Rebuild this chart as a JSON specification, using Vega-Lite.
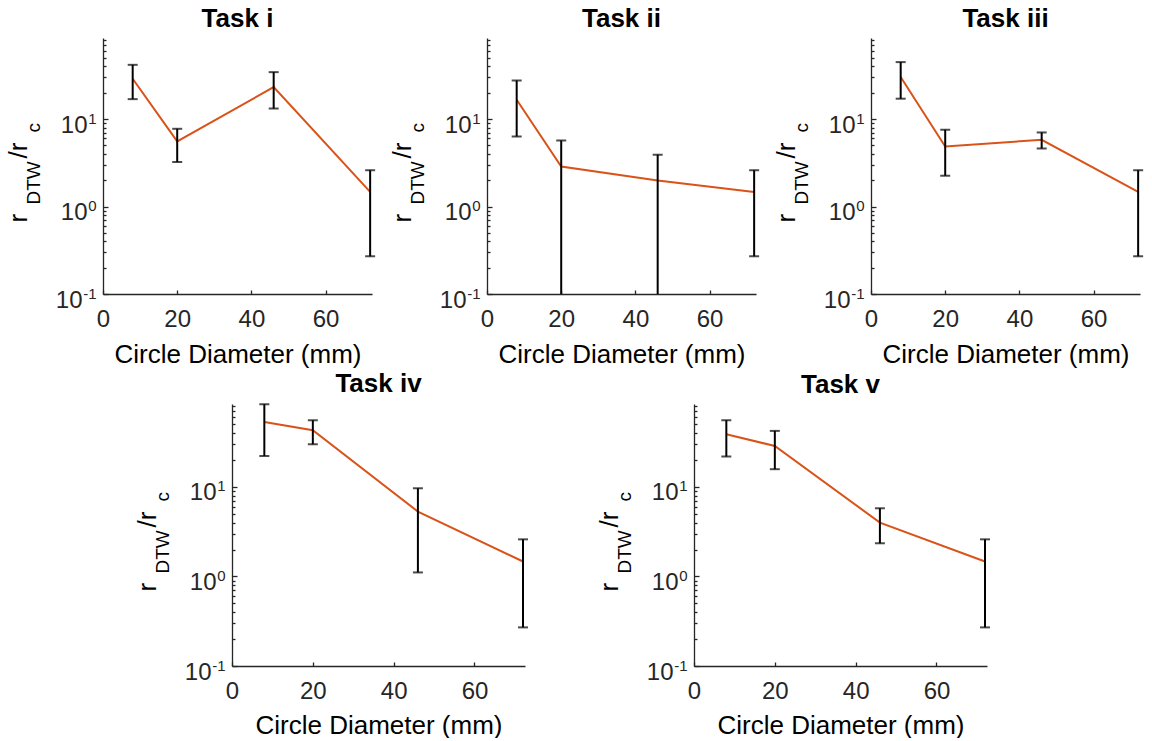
{
  "$schema": "https://vega.github.io/schema/vega-lite/v6.json",
  "background": "white",
  "padding": {"left": 5, "top": 6, "right": 0, "bottom": 0},
  "config": {
    "view": {"stroke": null},
    "font": "Liberation Sans",
    "axis": {
      "grid": false,
      "domainColor": "#262626",
      "domainWidth": 1.3,
      "tickColor": "#262626",
      "tickWidth": 1.3,
      "labelColor": "#262626",
      "labelFontSize": 24,
      "labelFont": "Liberation Sans",
      "titleFont": "Liberation Sans",
      "titleFontWeight": "normal",
      "titleColor": "#000000",
      "labelFlush": false,
      "labelOverlap": false,
      "labelBound": false
    },
    "title": {"font": "Liberation Sans", "fontSize": 26, "fontWeight": "bold", "color": "#000000", "baseline": "alphabetic", "anchor": "middle", "frame": "group"}
  },
  "datasets": {
    "err": [
      {"task": "i", "d": 8, "mean": 28.9, "lo": 16.9, "hi": 41.7},
      {"task": "i", "d": 20, "mean": 5.55, "lo": 3.23, "hi": 7.74},
      {"task": "i", "d": 46, "mean": 23.2, "lo": 13.2, "hi": 34.4},
      {"task": "i", "d": 72, "mean": 1.47, "lo": 0.27, "hi": 2.6},
      {"task": "ii", "d": 8, "mean": 16.6, "lo": 6.32, "hi": 27.6},
      {"task": "ii", "d": 20, "mean": 2.87, "lo": 0.1, "hi": 5.69},
      {"task": "ii", "d": 46, "mean": 1.99, "lo": 0.1, "hi": 3.91},
      {"task": "ii", "d": 72, "mean": 1.47, "lo": 0.27, "hi": 2.6},
      {"task": "iii", "d": 8, "mean": 30.2, "lo": 17.1, "hi": 44.8},
      {"task": "iii", "d": 20, "mean": 4.86, "lo": 2.25, "hi": 7.55},
      {"task": "iii", "d": 46, "mean": 5.8, "lo": 4.61, "hi": 7.03},
      {"task": "iii", "d": 72, "mean": 1.47, "lo": 0.27, "hi": 2.6},
      {"task": "iv", "d": 8, "mean": 53.2, "lo": 22.2, "hi": 84},
      {"task": "iv", "d": 20, "mean": 43, "lo": 30, "hi": 55.6},
      {"task": "iv", "d": 46, "mean": 5.31, "lo": 1.11, "hi": 9.67},
      {"task": "iv", "d": 72, "mean": 1.47, "lo": 0.27, "hi": 2.6},
      {"task": "v", "d": 8, "mean": 38.8, "lo": 21.9, "hi": 55.6},
      {"task": "v", "d": 20, "mean": 28.7, "lo": 15.8, "hi": 42.3},
      {"task": "v", "d": 46, "mean": 4.0, "lo": 2.35, "hi": 5.78},
      {"task": "v", "d": 72, "mean": 1.47, "lo": 0.27, "hi": 2.6}
    ]
  },
  "spacing": 4,
  "vconcat": [
    {
      "hconcat": [
        {
          "title": {"text": "Task i", "offset": 6},
          "width": 269, "height": 256,
          "data": {"name": "err"},
          "transform": [{"filter": "datum.task == 'i'"}],
          "encoding": {"x": {"field": "d", "type": "quantitative", "scale": {"domain": [0, 72.5], "nice": false, "zero": false}, "axis": {"values": [0, 20, 40, 60], "tickSize": -4, "labelPadding": 17, "title": "Circle Diameter (mm)", "titleFontSize": 26, "titleBaseline": "alphabetic", "titleY": 68}}},
          "layer": [
            {"mark": {"type": "line", "color": "#D95319", "strokeWidth": 2},
             "encoding": {"y": {"field": "mean", "type": "quantitative", "scale": {"type": "log", "domain": [0.1, 84.5], "nice": false}, "axis": {"orient": "left", "values": [0.1, 1, 10], "labelExpr": "'10'", "tickSize": -5, "labelPadding": {"condition": {"test": "datum.value < 0.5", "value": 26}, "value": 21}, "labelOffset": 6, "title": "r", "titleX": -77, "titleY": 184, "titleAngle": 270, "titleAlign": "left", "titleBaseline": "alphabetic", "titleFontSize": 26}}}},
            {"mark": {"type": "rule", "color": "black", "strokeWidth": 2},
             "encoding": {"y": {"field": "lo", "type": "quantitative", "scale": {"type": "log", "domain": [0.1, 84.5], "nice": false}, "axis": {"orient": "left", "values": [0.2, 0.3, 0.4, 0.5, 0.6, 0.7, 0.8, 0.9, 2, 3, 4, 5, 6, 7, 8, 9, 20, 30, 40, 50, 60, 70, 80], "tickSize": -3, "labels": false, "domain": false, "title": "DTW", "titleX": -64, "titleY": 166, "titleAngle": 270, "titleAlign": "left", "titleBaseline": "alphabetic", "titleFontSize": 19}}, "y2": {"field": "hi"}}},
            {"mark": {"type": "tick", "orient": "horizontal", "color": "black", "thickness": 2, "size": 10},
             "encoding": {"y": {"field": "hi", "type": "quantitative", "scale": {"type": "log", "domain": [0.1, 84.5], "nice": false}, "axis": {"orient": "left", "values": [0.1, 1, 10], "labelExpr": "datum.value < 0.5 ? '-1' : datum.value < 5 ? '0' : '1'", "labelFontSize": 15, "labelPadding": 7, "labelOffset": -1, "ticks": false, "domain": false, "title": "/r", "titleX": -77, "titleY": 120, "titleAngle": 270, "titleAlign": "left", "titleBaseline": "alphabetic", "titleFontSize": 26}}}},
            {"transform": [{"filter": "datum.lo > 0.1"}],
             "mark": {"type": "tick", "orient": "horizontal", "color": "black", "thickness": 2, "size": 10},
             "encoding": {"y": {"field": "lo", "type": "quantitative", "scale": {"type": "log", "domain": [0.1, 84.5], "nice": false}, "axis": {"orient": "left", "ticks": false, "labels": false, "domain": false, "title": "c", "titleX": -64, "titleY": 94, "titleAngle": 270, "titleAlign": "left", "titleBaseline": "alphabetic", "titleFontSize": 19}}}}
          ],
          "resolve": {"axis": {"y": "independent"}}
        },
        {
          "title": {"text": "Task ii", "offset": 6},
          "width": 269, "height": 256,
          "data": {"name": "err"},
          "transform": [{"filter": "datum.task == 'ii'"}],
          "encoding": {"x": {"field": "d", "type": "quantitative", "scale": {"domain": [0, 72.5], "nice": false, "zero": false}, "axis": {"values": [0, 20, 40, 60], "tickSize": -4, "labelPadding": 17, "title": "Circle Diameter (mm)", "titleFontSize": 26, "titleBaseline": "alphabetic", "titleY": 68}}},
          "layer": [
            {"mark": {"type": "line", "color": "#D95319", "strokeWidth": 2},
             "encoding": {"y": {"field": "mean", "type": "quantitative", "scale": {"type": "log", "domain": [0.1, 84.5], "nice": false}, "axis": {"orient": "left", "values": [0.1, 1, 10], "labelExpr": "'10'", "tickSize": -5, "labelPadding": {"condition": {"test": "datum.value < 0.5", "value": 26}, "value": 21}, "labelOffset": 6, "title": "r", "titleX": -77, "titleY": 184, "titleAngle": 270, "titleAlign": "left", "titleBaseline": "alphabetic", "titleFontSize": 26}}}},
            {"mark": {"type": "rule", "color": "black", "strokeWidth": 2},
             "encoding": {"y": {"field": "lo", "type": "quantitative", "scale": {"type": "log", "domain": [0.1, 84.5], "nice": false}, "axis": {"orient": "left", "values": [0.2, 0.3, 0.4, 0.5, 0.6, 0.7, 0.8, 0.9, 2, 3, 4, 5, 6, 7, 8, 9, 20, 30, 40, 50, 60, 70, 80], "tickSize": -3, "labels": false, "domain": false, "title": "DTW", "titleX": -64, "titleY": 166, "titleAngle": 270, "titleAlign": "left", "titleBaseline": "alphabetic", "titleFontSize": 19}}, "y2": {"field": "hi"}}},
            {"mark": {"type": "tick", "orient": "horizontal", "color": "black", "thickness": 2, "size": 10},
             "encoding": {"y": {"field": "hi", "type": "quantitative", "scale": {"type": "log", "domain": [0.1, 84.5], "nice": false}, "axis": {"orient": "left", "values": [0.1, 1, 10], "labelExpr": "datum.value < 0.5 ? '-1' : datum.value < 5 ? '0' : '1'", "labelFontSize": 15, "labelPadding": 7, "labelOffset": -1, "ticks": false, "domain": false, "title": "/r", "titleX": -77, "titleY": 120, "titleAngle": 270, "titleAlign": "left", "titleBaseline": "alphabetic", "titleFontSize": 26}}}},
            {"transform": [{"filter": "datum.lo > 0.1"}],
             "mark": {"type": "tick", "orient": "horizontal", "color": "black", "thickness": 2, "size": 10},
             "encoding": {"y": {"field": "lo", "type": "quantitative", "scale": {"type": "log", "domain": [0.1, 84.5], "nice": false}, "axis": {"orient": "left", "ticks": false, "labels": false, "domain": false, "title": "c", "titleX": -64, "titleY": 94, "titleAngle": 270, "titleAlign": "left", "titleBaseline": "alphabetic", "titleFontSize": 19}}}}
          ],
          "resolve": {"axis": {"y": "independent"}}
        },
        {
          "title": {"text": "Task iii", "offset": 6},
          "width": 269, "height": 256,
          "data": {"name": "err"},
          "transform": [{"filter": "datum.task == 'iii'"}],
          "encoding": {"x": {"field": "d", "type": "quantitative", "scale": {"domain": [0, 72.5], "nice": false, "zero": false}, "axis": {"values": [0, 20, 40, 60], "tickSize": -4, "labelPadding": 17, "title": "Circle Diameter (mm)", "titleFontSize": 26, "titleBaseline": "alphabetic", "titleY": 68}}},
          "layer": [
            {"mark": {"type": "line", "color": "#D95319", "strokeWidth": 2},
             "encoding": {"y": {"field": "mean", "type": "quantitative", "scale": {"type": "log", "domain": [0.1, 84.5], "nice": false}, "axis": {"orient": "left", "values": [0.1, 1, 10], "labelExpr": "'10'", "tickSize": -5, "labelPadding": {"condition": {"test": "datum.value < 0.5", "value": 26}, "value": 21}, "labelOffset": 6, "title": "r", "titleX": -77, "titleY": 184, "titleAngle": 270, "titleAlign": "left", "titleBaseline": "alphabetic", "titleFontSize": 26}}}},
            {"mark": {"type": "rule", "color": "black", "strokeWidth": 2},
             "encoding": {"y": {"field": "lo", "type": "quantitative", "scale": {"type": "log", "domain": [0.1, 84.5], "nice": false}, "axis": {"orient": "left", "values": [0.2, 0.3, 0.4, 0.5, 0.6, 0.7, 0.8, 0.9, 2, 3, 4, 5, 6, 7, 8, 9, 20, 30, 40, 50, 60, 70, 80], "tickSize": -3, "labels": false, "domain": false, "title": "DTW", "titleX": -64, "titleY": 166, "titleAngle": 270, "titleAlign": "left", "titleBaseline": "alphabetic", "titleFontSize": 19}}, "y2": {"field": "hi"}}},
            {"mark": {"type": "tick", "orient": "horizontal", "color": "black", "thickness": 2, "size": 10},
             "encoding": {"y": {"field": "hi", "type": "quantitative", "scale": {"type": "log", "domain": [0.1, 84.5], "nice": false}, "axis": {"orient": "left", "values": [0.1, 1, 10], "labelExpr": "datum.value < 0.5 ? '-1' : datum.value < 5 ? '0' : '1'", "labelFontSize": 15, "labelPadding": 7, "labelOffset": -1, "ticks": false, "domain": false, "title": "/r", "titleX": -77, "titleY": 120, "titleAngle": 270, "titleAlign": "left", "titleBaseline": "alphabetic", "titleFontSize": 26}}}},
            {"transform": [{"filter": "datum.lo > 0.1"}],
             "mark": {"type": "tick", "orient": "horizontal", "color": "black", "thickness": 2, "size": 10},
             "encoding": {"y": {"field": "lo", "type": "quantitative", "scale": {"type": "log", "domain": [0.1, 84.5], "nice": false}, "axis": {"orient": "left", "ticks": false, "labels": false, "domain": false, "title": "c", "titleX": -64, "titleY": 94, "titleAngle": 270, "titleAlign": "left", "titleBaseline": "alphabetic", "titleFontSize": 19}}}}
          ],
          "resolve": {"axis": {"y": "independent"}}
        }
      ],
      "spacing": 115,
      "bounds": "flush"
    },
    {
      "hconcat": [
        {"width": 129, "height": 262, "data": {"values": []}, "mark": "point"},
        {
          "hconcat": [
            {
              "title": {"text": "Task iv", "offset": 6},
              "width": 293, "height": 262,
              "data": {"name": "err"},
              "transform": [{"filter": "datum.task == 'iv'"}],
              "encoding": {"x": {"field": "d", "type": "quantitative", "scale": {"domain": [0, 72.5], "nice": false, "zero": false}, "axis": {"values": [0, 20, 40, 60], "tickSize": -4, "labelPadding": 17, "title": "Circle Diameter (mm)", "titleFontSize": 26, "titleBaseline": "alphabetic", "titleY": 67}}},
              "layer": [
                {"mark": {"type": "line", "color": "#D95319", "strokeWidth": 2},
                 "encoding": {"y": {"field": "mean", "type": "quantitative", "scale": {"type": "log", "domain": [0.1, 84.5], "nice": false}, "axis": {"orient": "left", "values": [0.1, 1, 10], "labelExpr": "'10'", "tickSize": -5, "labelPadding": {"condition": {"test": "datum.value < 0.5", "value": 26}, "value": 21}, "labelOffset": 6, "title": "r", "titleX": -77, "titleY": 187, "titleAngle": 270, "titleAlign": "left", "titleBaseline": "alphabetic", "titleFontSize": 26}}}},
                {"mark": {"type": "rule", "color": "black", "strokeWidth": 2},
                 "encoding": {"y": {"field": "lo", "type": "quantitative", "scale": {"type": "log", "domain": [0.1, 84.5], "nice": false}, "axis": {"orient": "left", "values": [0.2, 0.3, 0.4, 0.5, 0.6, 0.7, 0.8, 0.9, 2, 3, 4, 5, 6, 7, 8, 9, 20, 30, 40, 50, 60, 70, 80], "tickSize": -3, "labels": false, "domain": false, "title": "DTW", "titleX": -64, "titleY": 169, "titleAngle": 270, "titleAlign": "left", "titleBaseline": "alphabetic", "titleFontSize": 19}}, "y2": {"field": "hi"}}},
                {"mark": {"type": "tick", "orient": "horizontal", "color": "black", "thickness": 2, "size": 10},
                 "encoding": {"y": {"field": "hi", "type": "quantitative", "scale": {"type": "log", "domain": [0.1, 84.5], "nice": false}, "axis": {"orient": "left", "values": [0.1, 1, 10], "labelExpr": "datum.value < 0.5 ? '-1' : datum.value < 5 ? '0' : '1'", "labelFontSize": 15, "labelPadding": 7, "labelOffset": -1, "ticks": false, "domain": false, "title": "/r", "titleX": -77, "titleY": 123, "titleAngle": 270, "titleAlign": "left", "titleBaseline": "alphabetic", "titleFontSize": 26}}}},
                {"transform": [{"filter": "datum.lo > 0.1"}],
                 "mark": {"type": "tick", "orient": "horizontal", "color": "black", "thickness": 2, "size": 10},
                 "encoding": {"y": {"field": "lo", "type": "quantitative", "scale": {"type": "log", "domain": [0.1, 84.5], "nice": false}, "axis": {"orient": "left", "ticks": false, "labels": false, "domain": false, "title": "c", "titleX": -64, "titleY": 97, "titleAngle": 270, "titleAlign": "left", "titleBaseline": "alphabetic", "titleFontSize": 19}}}}
              ],
              "resolve": {"axis": {"y": "independent"}}
            },
            {
              "title": {"text": "Task v", "offset": 6},
              "width": 293, "height": 262,
              "data": {"name": "err"},
              "transform": [{"filter": "datum.task == 'v'"}],
              "encoding": {"x": {"field": "d", "type": "quantitative", "scale": {"domain": [0, 72.5], "nice": false, "zero": false}, "axis": {"values": [0, 20, 40, 60], "tickSize": -4, "labelPadding": 17, "title": "Circle Diameter (mm)", "titleFontSize": 26, "titleBaseline": "alphabetic", "titleY": 67}}},
              "layer": [
                {"mark": {"type": "line", "color": "#D95319", "strokeWidth": 2},
                 "encoding": {"y": {"field": "mean", "type": "quantitative", "scale": {"type": "log", "domain": [0.1, 84.5], "nice": false}, "axis": {"orient": "left", "values": [0.1, 1, 10], "labelExpr": "'10'", "tickSize": -5, "labelPadding": {"condition": {"test": "datum.value < 0.5", "value": 26}, "value": 21}, "labelOffset": 6, "title": "r", "titleX": -77, "titleY": 187, "titleAngle": 270, "titleAlign": "left", "titleBaseline": "alphabetic", "titleFontSize": 26}}}},
                {"mark": {"type": "rule", "color": "black", "strokeWidth": 2},
                 "encoding": {"y": {"field": "lo", "type": "quantitative", "scale": {"type": "log", "domain": [0.1, 84.5], "nice": false}, "axis": {"orient": "left", "values": [0.2, 0.3, 0.4, 0.5, 0.6, 0.7, 0.8, 0.9, 2, 3, 4, 5, 6, 7, 8, 9, 20, 30, 40, 50, 60, 70, 80], "tickSize": -3, "labels": false, "domain": false, "title": "DTW", "titleX": -64, "titleY": 169, "titleAngle": 270, "titleAlign": "left", "titleBaseline": "alphabetic", "titleFontSize": 19}}, "y2": {"field": "hi"}}},
                {"mark": {"type": "tick", "orient": "horizontal", "color": "black", "thickness": 2, "size": 10},
                 "encoding": {"y": {"field": "hi", "type": "quantitative", "scale": {"type": "log", "domain": [0.1, 84.5], "nice": false}, "axis": {"orient": "left", "values": [0.1, 1, 10], "labelExpr": "datum.value < 0.5 ? '-1' : datum.value < 5 ? '0' : '1'", "labelFontSize": 15, "labelPadding": 7, "labelOffset": -1, "ticks": false, "domain": false, "title": "/r", "titleX": -77, "titleY": 123, "titleAngle": 270, "titleAlign": "left", "titleBaseline": "alphabetic", "titleFontSize": 26}}}},
                {"transform": [{"filter": "datum.lo > 0.1"}],
                 "mark": {"type": "tick", "orient": "horizontal", "color": "black", "thickness": 2, "size": 10},
                 "encoding": {"y": {"field": "lo", "type": "quantitative", "scale": {"type": "log", "domain": [0.1, 84.5], "nice": false}, "axis": {"orient": "left", "ticks": false, "labels": false, "domain": false, "title": "c", "titleX": -64, "titleY": 97, "titleAngle": 270, "titleAlign": "left", "titleBaseline": "alphabetic", "titleFontSize": 19}}}}
              ],
              "resolve": {"axis": {"y": "independent"}}
            }
          ],
          "spacing": 169,
          "bounds": "flush"
        }
      ],
      "spacing": 0,
      "bounds": "flush"
    }
  ]
}
